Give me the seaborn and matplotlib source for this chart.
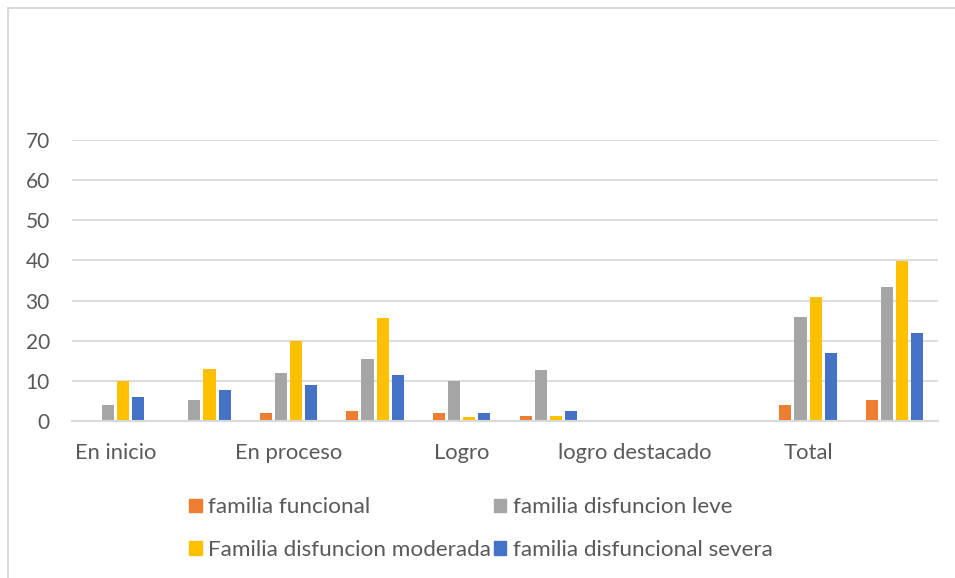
import numpy as np
import pandas as pd
import matplotlib
matplotlib.use('Agg')
import matplotlib.pyplot as plt
from matplotlib.lines import Line2D
import seaborn as sns

#------------------------------------------------
categories=['En inicio', 'En inicio %', 'En proceso', 'En proceso %', 'Logro', 'Logro %',
            'logro destacado', 'logro destacado %', 'Total', 'Total %']
tick_labels=['En inicio', '', 'En proceso', '', 'Logro', '', 'logro destacado', '', 'Total', '']
series=['familia funcional', 'familia disfuncion leve',
        'Familia disfuncion moderada', 'familia disfuncional severa']

funcional=[0, 0, 2, 2.5, 2, 1.3, 0, 0, 4, 5.2]
leve=[4, 5.2, 12, 15.4, 10, 12.8, 0, 0, 26, 33.3]
moderada=[10, 12.9, 20, 25.7, 1, 1.3, 0, 0, 31, 39.8]
severa=[6, 7.7, 9, 11.5, 2, 2.5, 0, 0, 17, 21.8]

colors=['#ED7D31', '#A5A5A5', '#FFC000', '#4472C4']
yticks=[0, 10, 20, 30, 40, 50, 60, 70]

#########################################################
df=pd.DataFrame({'cat': categories*4,
                 'serie': np.repeat(series, len(categories)),
                 'val': funcional+leve+moderada+severa})

sns.set_style('white')
plt.rcParams['font.family']=['Lato', 'DejaVu Sans']
txt='#595959'
grid='#D9D9D9'

fig=plt.figure(figsize=(9.55, 5.78), dpi=100)
ax=fig.add_axes([72/955, 1-421/578, (938-72)/955, (421-140)/578])

sns.barplot(data=df, x='cat', y='val', hue='serie', order=categories, hue_order=series,
            palette=colors, width=0.7, gap=0.2, linewidth=0, saturation=1, ax=ax)

#adjust
ax.set_ylim(0, 70)
ax.set_xlim(-0.5, len(categories)-0.5)
ax.set_yticks(yticks)
ax.yaxis.grid(True, color=grid, linewidth=1.3)
ax.set_axisbelow(True)
for s in ['left', 'top', 'right']:
    ax.spines[s].set_visible(False)
ax.spines['bottom'].set_color(grid)
ax.spines['bottom'].set_linewidth(1.5)

ax.set_xticks(range(len(categories)))
ax.set_xticklabels(tick_labels, fontsize=15.8, color=txt)
ax.set_xticks(np.arange(-0.5, len(categories)), minor=True)
ax.tick_params(axis='x', which='major', length=0, pad=16)
ax.tick_params(axis='x', which='minor', length=6, width=1.5, color=grid)
ax.tick_params(axis='y', length=0, pad=16, labelsize=15, labelcolor=txt)
ax.set_xlabel('')
ax.set_ylabel('')

#legend (row-major order like excel)
ax.get_legend().remove()
handles=[plt.Rectangle((0, 0), 1, 1, color=c) for c in colors]
idx=[0, 2, 1, 3]
fig.legend([handles[i] for i in idx], [series[i] for i in idx], ncol=2, loc='upper left',
           bbox_to_anchor=(169/955, 1-477/578), frameon=False, fontsize=16.2, labelcolor=txt,
           handlelength=0.55, handleheight=0.55, handletextpad=0.3, columnspacing=0.12,
           labelspacing=1.0)

#border
fig.add_artist(Line2D([8/955, 1], [1-8/578, 1-8/578], color=grid, linewidth=1.5))
fig.add_artist(Line2D([8/955, 8/955], [0, 1-8/578], color=grid, linewidth=1.5))

#save
plt.savefig('out.png', dpi=100)
plt.close()
